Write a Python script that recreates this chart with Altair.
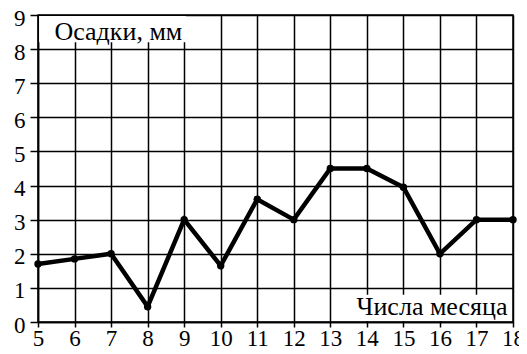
import altair as alt
import pandas as pd

days = [5, 6, 7, 8, 9, 10, 11, 12, 13, 14, 15, 16, 17, 18]
rain = [1.7, 1.85, 2.0, 0.45, 3.0, 1.65, 3.6, 3.0, 4.5, 4.5, 3.95, 2.0, 3.0, 3.0]
x_ticks = list(range(5, 19))
y_ticks = list(range(0, 10))
y_title = "Осадки, мм"
x_title = "Числа месяца"

df = pd.DataFrame({"day": days, "rain": rain})

xs = alt.Scale(domain=[5, 18], nice=False, zero=False)
ys = alt.Scale(domain=[0, 9], nice=False)

font = "Liberation Serif"

xax = alt.Axis(values=x_ticks, format="d", tickSize=5, labelPadding=0)
yax = alt.Axis(values=y_ticks, format="d", tickSize=8, labelPadding=5, labelOffset=3)


def X(f):
    return alt.X(f, scale=xs, title=None, axis=xax)


def Y(f):
    return alt.Y(f, scale=ys, title=None, axis=yax)


base = alt.Chart(df)

line = base.mark_line(color="black", strokeWidth=4.5).encode(x=X("day:Q"), y=Y("rain:Q"))
pts = base.mark_circle(color="black", size=55, opacity=1).encode(x=X("day:Q"), y=Y("rain:Q"))

box_df = pd.DataFrame({"x": [5.03, 13.6], "x2": [9.05, 17.97],
                       "y": [8.2, 0.03], "y2": [8.97, 0.8]})
boxes = alt.Chart(box_df).mark_rect(color="white").encode(
    x=X("x:Q"), x2="x2:Q", y=Y("y:Q"), y2="y2:Q")

lbl_df = pd.DataFrame({"x": [5.45], "y": [8.5], "t": [y_title]})
lbl1 = alt.Chart(lbl_df).mark_text(align="left", baseline="middle", font=font,
                                   fontSize=26, color="black").encode(
    x=X("x:Q"), y=Y("y:Q"), text="t:N")
lbl2_df = pd.DataFrame({"x": [17.85], "y": [0.45], "t": [x_title]})
lbl2 = alt.Chart(lbl2_df).mark_text(align="right", baseline="middle", font=font,
                                    fontSize=26, color="black").encode(
    x=X("x:Q"), y=Y("y:Q"), text="t:N")

chart = alt.layer(line, boxes, lbl1, lbl2, pts).properties(
    width=475, height=307,
    autosize=alt.AutoSizeParams(type="none"),
    padding={"left": 30, "top": 7, "right": 6, "bottom": 24},
).configure(
    background="white", font=font
).configure_view(
    stroke="black", strokeWidth=1.5
).configure_axis(
    grid=True, gridColor="black", gridWidth=1.5, gridOpacity=1,
    domainColor="black", domainWidth=1.5, tickColor="black", tickWidth=1.5,
    labelFont=font, labelFontSize=23, labelColor="black",
    labelFlush=False, labelOverlap=False, labelBound=False,
)

chart.save("out.html", embed_options={"renderer": "svg", "actions": False})
